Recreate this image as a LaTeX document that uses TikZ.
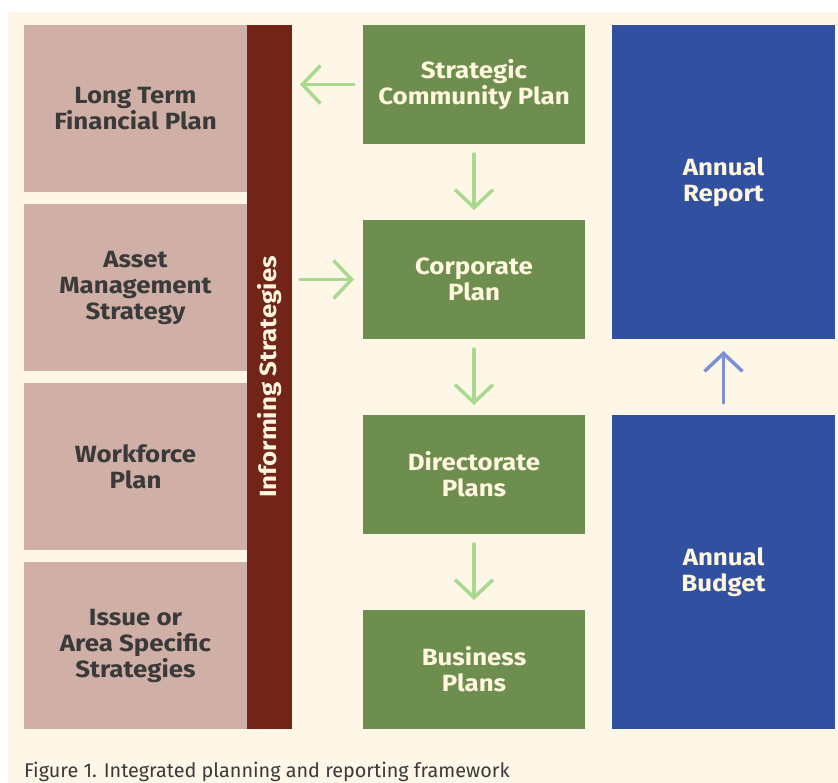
\documentclass[tikz,border=0pt]{standalone}
\usepackage{fontspec}
\setmainfont{Fira Sans}
\newfontfamily\boxfont{Fira Sans}[FakeStretch=1.1]
\usetikzlibrary{arrows.meta,positioning}
\definecolor{cream}{HTML}{FEF7E7}
\definecolor{pinkbox}{HTML}{D0B0A6}
\definecolor{barred}{HTML}{722419}
\definecolor{greenbox}{HTML}{6E8E50}
\definecolor{bluebox}{HTML}{3151A0}
\definecolor{greenarrow}{HTML}{A9D98F}
\definecolor{bluearrow}{HTML}{7C90D2}
\definecolor{darktext}{HTML}{3A3A3A}
\definecolor{lighttext}{HTML}{FFF6DE}
\tikzset{
    %Define standard arrow tip
    >={Straight Barb[length=18bp,width=38bp]},
    %Define style for boxes
    infobox/.style={
           rectangle,
           fill=pinkbox,
           text=darktext,
           inner sep=0pt, outer sep=0pt,
           minimum width=223bp,
           minimum height=167bp,
           align=center,
           font=\boxfont\fontsize{23.5bp}{26bp}\selectfont\bfseries},
    planbox/.style={
           infobox,
           fill=greenbox,
           text=lighttext,
           minimum width=222bp,
           minimum height=119bp},
    reportbox/.style={
           infobox,
           fill=bluebox,
           text=lighttext,
           minimum height=314bp},
    strategybar/.style={
           infobox,
           fill=barred,
           text=lighttext,
           minimum width=704bp,
           minimum height=45bp},
    % Define arrow style
    flow/.style={
           ->,
           greenarrow,
           line width=3.5bp,
           line cap=round,
           shorten <=10bp,
           shorten >=10bp,},
    upflow/.style={
           flow,
           bluearrow,
           shorten <=12bp,
           shorten >=12bp,},
}
\begin{document}
\begin{tikzpicture}[x=1bp, y=-1bp]
 \useasboundingbox (0,0) rectangle (838,783);
 \fill[cream] (8,12) rectangle (838,783);
 %nodes
 \node[infobox] (ltfp) at (135.5,108.5) {Long Term\\Financial Plan};
 \node[infobox, below=12bp of ltfp] (ams) {Asset\\Management\\Strategy};
 \node[infobox, below=12bp of ams] (wfp) {Workforce\\Plan};
 \node[infobox, below=12bp of wfp] (iass) {Issue or\\Area Specific\\Strategies};
 \node[strategybar, rotate=90] (bar) at (269.5,377) {Informing Strategies};
 \node[planbox] (scp) at (474,84.5) {Strategic\\Community Plan};
 \node[planbox, below=76bp of scp] (cp) {Corporate\\Plan};
 \node[planbox, below=76bp of cp] (dp) {Directorate\\Plans};
 \node[planbox, below=76bp of dp] (bp) {Business\\Plans};
 \node[reportbox] (ar) at (723.5,182) {Annual\\Report};
 \node[reportbox, below=76bp of ar] (ab) {Annual\\Budget};
 \node[anchor=base west, inner sep=0pt, text=darktext,
       font=\fontsize{19.8bp}{22bp}\selectfont] (cap) at (24,777)
       {Figure 1. Integrated planning and reporting framework};
 %edges
 \draw[flow, shorten >=30.5bp, shorten <=9bp] (scp) -- (scp -| bar);
 \draw[flow, shorten <=30.5bp, shorten >=9bp] (cp -| bar) -- (cp);
 \draw[flow] (scp) -- (cp);
 \draw[flow] (cp) -- (dp);
 \draw[flow] (dp) -- (bp);
 \draw[upflow] (ab) -- (ar);
\end{tikzpicture}
\end{document}
